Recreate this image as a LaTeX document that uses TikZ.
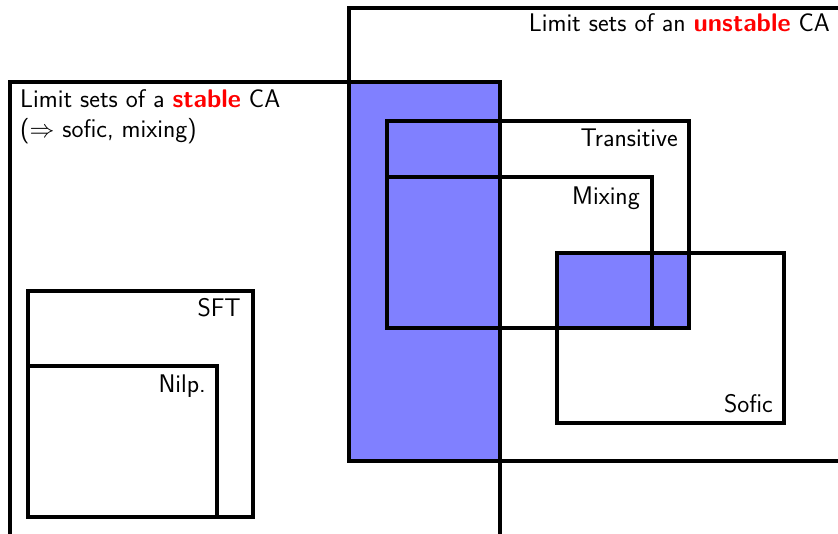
\documentclass[tikz,border=0pt]{standalone}
\usepackage{xcolor}
\begin{document}
\begin{tikzpicture}[x=1pt,y=-1pt,
  box/.style={draw=black,line width=3.2pt},
  lbl/.style={inner sep=0pt,font=\fontsize{25.5}{30}\selectfont\sffamily},
  hl/.style={fill=blue!50}]
\useasboundingbox (0,0) rectangle (838,534);
\clip (0,0) rectangle (838,534);
% corners
\coordinate (U1) at (349,8);   \coordinate (U2) at (860,461);
\coordinate (S1) at (10,82);   \coordinate (S2) at (500,560);
\coordinate (T1) at (387,121); \coordinate (T2) at (689,328);
\coordinate (M1) at (387,177); \coordinate (M2) at (652,328);
\coordinate (F1) at (557,253); \coordinate (F2) at (784,423);
\coordinate (P1) at (28,291);  \coordinate (P2) at (253,517);
\coordinate (N1) at (28,366);  \coordinate (N2) at (217,517);
% highlighted intersections
\fill[hl] (U1 |- S1) rectangle (S2 |- U2);
\fill[hl] (F1) rectangle (T2);
% boxes
\draw[box] (U1) rectangle (U2);
\draw[box] (S1) rectangle (S2);
\draw[box] (T1) rectangle (T2);
\draw[box] (M1) rectangle (M2);
\draw[box] (F1) rectangle (F2);
\draw[box] (P1) rectangle (P2);
\draw[box] (N1) rectangle (N2);
% labels
\node[lbl,anchor=base east] (lu) at (830,32) {Limit sets of an \textcolor{red}{\textbf{unstable}} CA};
\node[lbl,anchor=base west] (ls1) at (20,108) {Limit sets of a \textcolor{red}{\textbf{stable}} CA};
\node[lbl,anchor=base west] (ls2) at (20,138) {($\Rightarrow$ sofic, mixing)};
\node[lbl,anchor=base east] (lt) at (678,147) {Transitive};
\node[lbl,anchor=base east] (lm) at (640,205) {Mixing};
\node[lbl,anchor=base east] (lf) at (773,413) {Sofic};
\node[lbl,anchor=base east] (lp) at (241,317) {SFT};
\node[lbl,anchor=base east] (ln) at (206,392) {Nilp.};
\end{tikzpicture}
\end{document}
